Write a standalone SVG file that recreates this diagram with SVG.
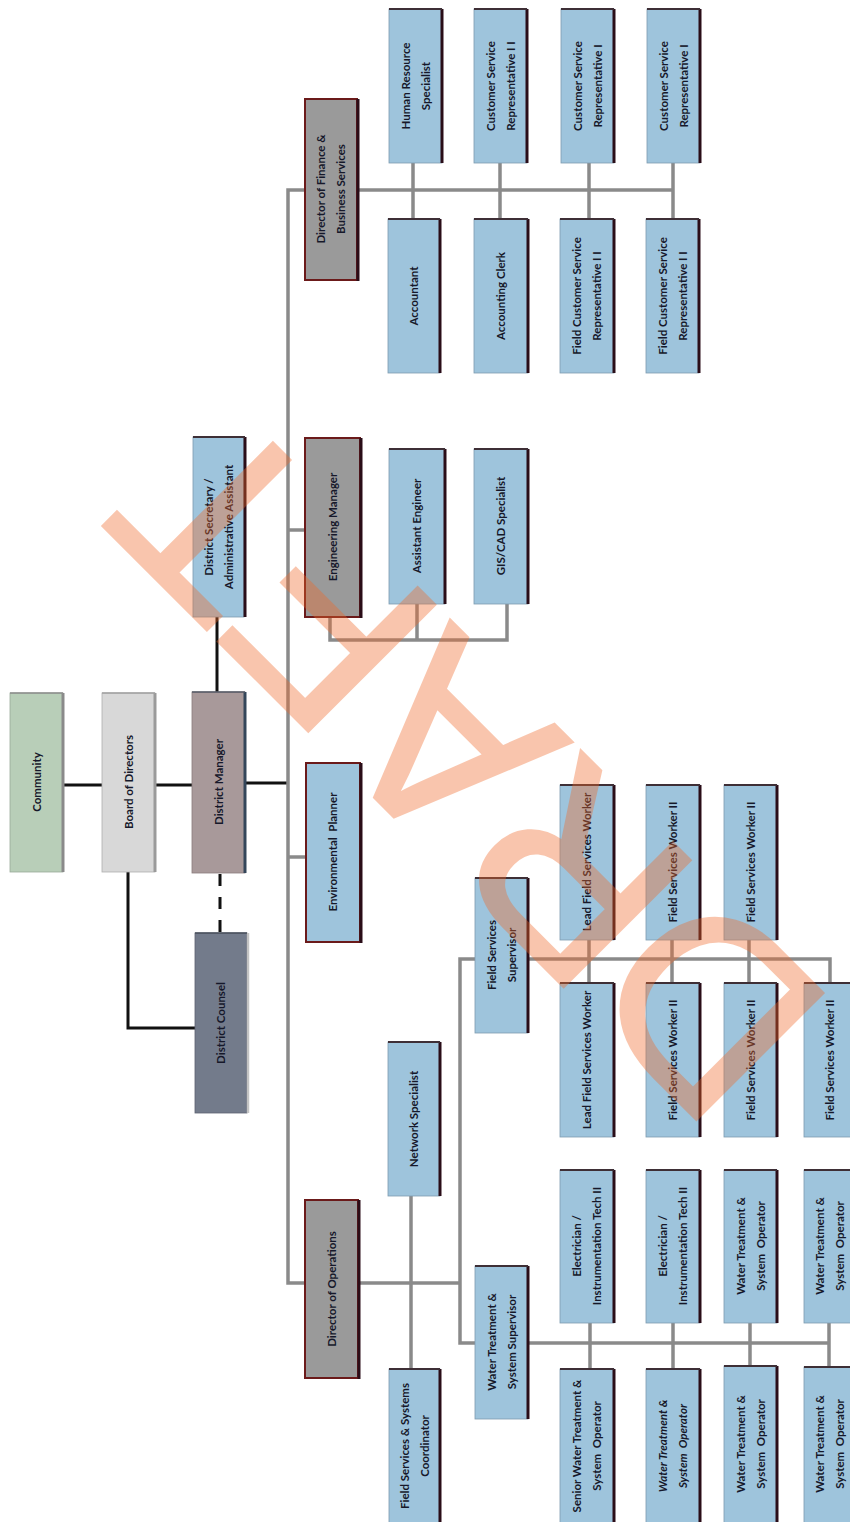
<svg xmlns="http://www.w3.org/2000/svg" width="850" height="1522" viewBox="0 0 850 1522">
<defs>
<style>
.bg{fill:#ffffff}
.blue{fill:#9ec4dc;stroke:#7d9bb0;stroke-width:0.8}
.dir{fill:#9a9a9a;stroke:#6b1a1a;stroke-width:2}
.envb{fill:#9ec4dc;stroke:#6b1a1a;stroke-width:2}
.shadow{stroke:#2a0d18;stroke-width:3;fill:none}
.topline{stroke:#3e2f36;stroke-width:2;fill:none}
.gline{stroke:#8a8a8a;stroke-width:3.5;fill:none}
.bline{stroke:#111111;stroke-width:3;fill:none}
.dash{stroke:#111111;stroke-width:3;fill:none;stroke-dasharray:12 11}
text{font-family:Lato,"Open Sans","Liberation Sans",sans-serif;font-size:11.5px;font-weight:bold;fill:#16182a;text-anchor:middle}
.it{font-style:italic}
.wm{font-family:"Liberation Sans",Arial,sans-serif;font-size:260px;font-weight:normal;fill:#f06a2a;stroke:#f06a2a;stroke-width:3;text-anchor:start}
</style>
</defs>
<rect class="bg" x="0" y="0" width="850" height="1522"/>

<g id="connectors">
  <path class="bline" d="M63,785 H102"/>
  <path class="bline" d="M155,785 H192"/>
  <path class="bline" d="M245,783 H288"/>
  <path class="bline" d="M217,617 V692"/>
  <path class="bline" d="M128,872 V1028 H195"/>
  <path class="dash" d="M220,874 V933"/>
  <path class="gline" d="M304,190 H288 V1283 H460"/>
  <path class="gline" d="M288,530 H304"/>
  <path class="gline" d="M288,857 H305"/>
  <path class="gline" d="M357,190 H673"/>
  <path class="gline" d="M413,163 V219 M500,163 V219 M589,163 V219 M673,163 V219"/>
  <path class="gline" d="M330,617 V640 H507 V604 M417,604 V640"/>
  <path class="gline" d="M411,1196 V1369"/>
  <path class="gline" d="M475,959 H460 V1343 H829"/>
  <path class="gline" d="M528,959 H830 V983 M589,940 V983 M672,940 V983 M749,940 V983"/>
  <path class="gline" d="M590,1323 V1369 M673,1323 V1369 M750,1323 V1366 M829,1323 V1367"/>
</g>

<g id="n-community">
  <rect x="10" y="693" width="53" height="179" fill="#b8ceb8" stroke="#9aaa9a" stroke-width="0.8"/>
  <path d="M63,693 V872" stroke="#8a8a8a" stroke-width="3"/>
  <path d="M10,693 H63" stroke="#8c8c8c" stroke-width="1.5"/>
  <text transform="translate(36.5,782) rotate(-90)" y="4">Community</text>
</g>
<g id="n-board">
  <rect x="102" y="693" width="53" height="179" fill="#d8d8d8" stroke="#b0b0b0" stroke-width="0.8"/>
  <path d="M155,693 V872" stroke="#9a9a9a" stroke-width="3"/>
  <path d="M102,693 H155" stroke="#a0a0a0" stroke-width="1.5"/>
  <text transform="translate(128.5,782) rotate(-90)" y="4">Board of Directors</text>
</g>
<g id="n-district-manager">
  <rect x="192" y="692" width="53" height="181" fill="#a8999a" stroke="#8a7c7d" stroke-width="0.8"/>
  <path d="M245,692 V873" stroke="#34465a" stroke-width="3"/>
  <path d="M192,692 H245" stroke="#555a66" stroke-width="1.5"/>
  <text transform="translate(218.5,782) rotate(-90)" y="4">District Manager</text>
</g>
<g id="n-district-counsel">
  <rect x="195" y="933" width="52" height="180" fill="#737b8b" stroke="#5c6270" stroke-width="0.8"/>
  <path d="M248,933 V1113" stroke="#c4c4c4" stroke-width="2.5"/>
  <path d="M195,933 H247" stroke="#4a505c" stroke-width="1.5"/>
  <text transform="translate(221,1023) rotate(-90)" y="4">District Counsel</text>
</g>
<g id="n-secretary">
  <rect class="blue" x="193" y="437" width="51" height="180"/>
  <path class="shadow" d="M245,437 V617" stroke="#3b4350"/>
  <path class="topline" d="M193,437 H245"/>
  <text transform="translate(218.5,527) rotate(-90)"><tspan x="0" y="-6">District Secretary /</tspan><tspan x="0" y="14">Administrative Assistant</tspan></text>
</g>

<g id="n-dir-finance">
  <rect class="dir" x="305" y="99" width="52" height="181"/>
  <path class="shadow" d="M358,99 V281"/>
  <text transform="translate(331,189) rotate(-90)"><tspan x="0" y="-6">Director of Finance &amp;</tspan><tspan x="0" y="14">Business Services</tspan></text>
</g>
<g id="n-eng-mgr">
  <rect class="dir" x="305" y="438" width="55" height="179"/>
  <path class="shadow" d="M361,438 V618"/>
  <text transform="translate(332.5,527) rotate(-90)" y="4">Engineering Manager</text>
</g>
<g id="n-env-planner">
  <rect class="envb" x="306" y="763" width="54" height="179"/>
  <path class="shadow" d="M361,763 V943"/>
  <text transform="translate(333,852) rotate(-90)" y="4">Environmental&#160; Planner</text>
</g>
<g id="n-dir-ops">
  <rect class="dir" x="305" y="1200" width="53" height="178"/>
  <path class="shadow" d="M359,1200 V1379"/>
  <text transform="translate(331.5,1289) rotate(-90)" y="4">Director of Operations</text>
</g>

<g id="n-hr">
  <rect class="blue" x="389" y="9" width="53" height="154"/>
  <path class="shadow" d="M442,9 V163"/><path class="topline" d="M389,9 H442"/>
  <text transform="translate(415.5,86) rotate(-90)"><tspan x="0" y="-6">Human Resource</tspan><tspan x="0" y="14">Specialist</tspan></text>
</g>
<g id="n-csr2">
  <rect class="blue" x="474" y="9" width="53" height="154"/>
  <path class="shadow" d="M527,9 V163"/><path class="topline" d="M474,9 H527"/>
  <text transform="translate(500.5,86) rotate(-90)"><tspan x="0" y="-6">Customer Service</tspan><tspan x="0" y="14">Representative I I</tspan></text>
</g>
<g id="n-csr1a">
  <rect class="blue" x="561" y="9" width="53" height="154"/>
  <path class="shadow" d="M614,9 V163"/><path class="topline" d="M561,9 H614"/>
  <text transform="translate(587.5,86) rotate(-90)"><tspan x="0" y="-6">Customer Service</tspan><tspan x="0" y="14">Representative I</tspan></text>
</g>
<g id="n-csr1b">
  <rect class="blue" x="647" y="9" width="53" height="154"/>
  <path class="shadow" d="M700,9 V163"/><path class="topline" d="M647,9 H700"/>
  <text transform="translate(673.5,86) rotate(-90)"><tspan x="0" y="-6">Customer Service</tspan><tspan x="0" y="14">Representative I</tspan></text>
</g>
<g id="n-accountant">
  <rect class="blue" x="388" y="219" width="52" height="154"/>
  <path class="shadow" d="M440,219 V373"/><path class="topline" d="M388,219 H440"/>
  <text transform="translate(414,296) rotate(-90)" y="4">Accountant</text>
</g>
<g id="n-accounting-clerk">
  <rect class="blue" x="474" y="219" width="54" height="154"/>
  <path class="shadow" d="M528,219 V373"/><path class="topline" d="M474,219 H528"/>
  <text transform="translate(501,296) rotate(-90)" y="4">Accounting Clerk</text>
</g>
<g id="n-fcsr2a">
  <rect class="blue" x="560" y="219" width="54" height="154"/>
  <path class="shadow" d="M614,219 V373"/><path class="topline" d="M560,219 H614"/>
  <text transform="translate(587,296) rotate(-90)"><tspan x="0" y="-6">Field Customer Service</tspan><tspan x="0" y="14">Representative I I</tspan></text>
</g>
<g id="n-fcsr2b">
  <rect class="blue" x="646" y="219" width="53" height="154"/>
  <path class="shadow" d="M699,219 V373"/><path class="topline" d="M646,219 H699"/>
  <text transform="translate(672.5,296) rotate(-90)"><tspan x="0" y="-6">Field Customer Service</tspan><tspan x="0" y="14">Representative I I</tspan></text>
</g>

<g id="n-asst-eng">
  <rect class="blue" x="389" y="449" width="56" height="155"/>
  <path class="shadow" d="M445,449 V604"/><path class="topline" d="M389,449 H445"/>
  <text transform="translate(417,526) rotate(-90)" y="4">Assistant Engineer</text>
</g>
<g id="n-gis">
  <rect class="blue" x="474" y="449" width="54" height="155"/>
  <path class="shadow" d="M528,449 V604"/><path class="topline" d="M474,449 H528"/>
  <text transform="translate(501,526) rotate(-90)" y="4">GIS/CAD Specialist</text>
</g>

<g id="n-network">
  <rect class="blue" x="388" y="1042" width="52" height="154"/>
  <path class="shadow" d="M440,1042 V1196"/><path class="topline" d="M388,1042 H440"/>
  <text transform="translate(414,1119) rotate(-90)" y="4">Network Specialist</text>
</g>
<g id="n-fs-coordinator">
  <rect class="blue" x="389" y="1369" width="51" height="160"/>
  <path class="shadow" d="M440,1369 V1522"/><path class="topline" d="M389,1369 H440"/>
  <text transform="translate(414.5,1446) rotate(-90)"><tspan x="0" y="-6">Field Services &amp; Systems</tspan><tspan x="0" y="14">Coordinator</tspan></text>
</g>
<g id="n-fs-supervisor">
  <rect class="blue" x="475" y="878" width="53" height="155"/>
  <path class="shadow" d="M528,878 V1033"/><path class="topline" d="M475,878 H528"/>
  <text transform="translate(501.5,955) rotate(-90)"><tspan x="0" y="-6">Field Services</tspan><tspan x="0" y="14">Supervisor</tspan></text>
</g>
<g id="n-wt-supervisor">
  <rect class="blue" x="475" y="1266" width="53" height="153"/>
  <path class="shadow" d="M528,1266 V1419"/><path class="topline" d="M475,1266 H528"/>
  <text transform="translate(501.5,1342) rotate(-90)"><tspan x="0" y="-6">Water Treatment &amp;</tspan><tspan x="0" y="14">System Supervisor</tspan></text>
</g>

<g id="n-lead-fsw-1">
  <rect class="blue" x="560" y="785" width="54" height="155"/>
  <path class="shadow" d="M614,785 V940"/><path class="topline" d="M560,785 H614"/>
  <text transform="translate(587,862) rotate(-90)" y="4">Lead Field Services Worker</text>
</g>
<g id="n-fsw2-1">
  <rect class="blue" x="646" y="785" width="54" height="155"/>
  <path class="shadow" d="M700,785 V940"/><path class="topline" d="M646,785 H700"/>
  <text transform="translate(673,862) rotate(-90)" y="4">Field Services Worker II</text>
</g>
<g id="n-fsw2-2">
  <rect class="blue" x="724" y="785" width="53" height="155"/>
  <path class="shadow" d="M777,785 V940"/><path class="topline" d="M724,785 H777"/>
  <text transform="translate(750.5,862) rotate(-90)" y="4">Field Services Worker II</text>
</g>
<g id="n-lead-fsw-2">
  <rect class="blue" x="560" y="983" width="54" height="154"/>
  <path class="shadow" d="M614,983 V1137"/><path class="topline" d="M560,983 H614"/>
  <text transform="translate(587,1060) rotate(-90)" y="4">Lead Field Services Worker</text>
</g>
<g id="n-fsw2-3">
  <rect class="blue" x="646" y="983" width="54" height="154"/>
  <path class="shadow" d="M700,983 V1137"/><path class="topline" d="M646,983 H700"/>
  <text transform="translate(673,1060) rotate(-90)" y="4">Field Services Worker II</text>
</g>
<g id="n-fsw2-4">
  <rect class="blue" x="724" y="983" width="53" height="154"/>
  <path class="shadow" d="M777,983 V1137"/><path class="topline" d="M724,983 H777"/>
  <text transform="translate(750.5,1060) rotate(-90)" y="4">Field Services Worker II</text>
</g>
<g id="n-fsw2-5">
  <rect class="blue" x="804" y="983" width="52" height="154"/>
  <path class="topline" d="M804,983 H856"/>
  <text transform="translate(830,1060) rotate(-90)" y="4">Field Services Worker II</text>
</g>

<g id="n-elec-1">
  <rect class="blue" x="560" y="1170" width="54" height="153"/>
  <path class="shadow" d="M614,1170 V1323"/><path class="topline" d="M560,1170 H614"/>
  <text transform="translate(587,1246) rotate(-90)"><tspan x="0" y="-6">Electrician /</tspan><tspan x="0" y="14">Instrumentation Tech II</tspan></text>
</g>
<g id="n-elec-2">
  <rect class="blue" x="646" y="1170" width="54" height="153"/>
  <path class="shadow" d="M700,1170 V1323"/><path class="topline" d="M646,1170 H700"/>
  <text transform="translate(673,1246) rotate(-90)"><tspan x="0" y="-6">Electrician /</tspan><tspan x="0" y="14">Instrumentation Tech II</tspan></text>
</g>
<g id="n-wtso-1">
  <rect class="blue" x="724" y="1170" width="53" height="153"/>
  <path class="shadow" d="M777,1170 V1323"/><path class="topline" d="M724,1170 H777"/>
  <text transform="translate(750.5,1246) rotate(-90)"><tspan x="0" y="-6">Water Treatment &amp;</tspan><tspan x="0" y="14">System&#160; Operator</tspan></text>
</g>
<g id="n-wtso-2">
  <rect class="blue" x="804" y="1170" width="52" height="153"/>
  <path class="topline" d="M804,1170 H856"/>
  <text transform="translate(830,1246) rotate(-90)"><tspan x="0" y="-6">Water Treatment &amp;</tspan><tspan x="0" y="14">System&#160; Operator</tspan></text>
</g>
<g id="n-senior-wtso">
  <rect class="blue" x="560" y="1369" width="54" height="160"/>
  <path class="shadow" d="M614,1369 V1522"/><path class="topline" d="M560,1369 H614"/>
  <text transform="translate(587,1446) rotate(-90)"><tspan x="0" y="-6">Senior Water Treatment &amp;</tspan><tspan x="0" y="14">System&#160; Operator</tspan></text>
</g>
<g id="n-wtso-3">
  <rect class="blue" x="646" y="1369" width="54" height="160"/>
  <path class="shadow" d="M700,1369 V1522"/><path class="topline" d="M646,1369 H700"/>
  <text class="it" transform="translate(673,1446) rotate(-90)"><tspan x="0" y="-6">Water Treatment &amp;</tspan><tspan x="0" y="14">System&#160; Operator</tspan></text>
</g>
<g id="n-wtso-4">
  <rect class="blue" x="724" y="1366" width="53" height="163"/>
  <path class="shadow" d="M777,1366 V1522"/><path class="topline" d="M724,1366 H777"/>
  <text transform="translate(750.5,1444) rotate(-90)"><tspan x="0" y="-6">Water Treatment &amp;</tspan><tspan x="0" y="14">System&#160; Operator</tspan></text>
</g>
<g id="n-wtso-5">
  <rect class="blue" x="804" y="1367" width="52" height="162"/>
  <path class="topline" d="M804,1367 H856"/>
  <text transform="translate(830,1444) rotate(-90)"><tspan x="0" y="-6">Water Treatment &amp;</tspan><tspan x="0" y="14">System&#160; Operator</tspan></text>
</g>

<g id="watermark" opacity="0.38">
  <text class="wm" transform="translate(838,1008) rotate(-135)">DRAFT</text>
</g>
</svg>
